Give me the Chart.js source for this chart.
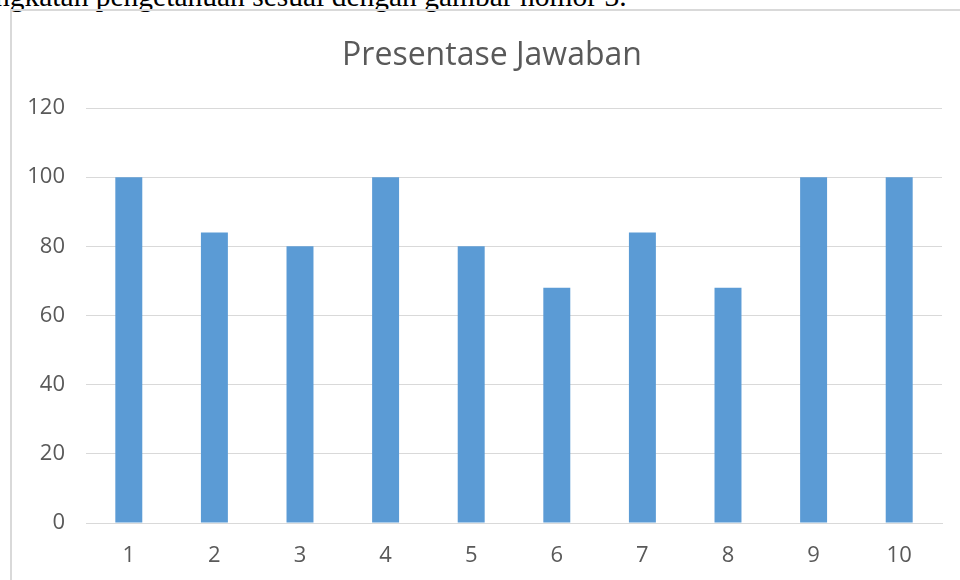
<!DOCTYPE html>
<html>
<head>
<meta charset="utf-8">
<script src="https://cdn.jsdelivr.net/npm/chart.js@4"></script>
<style>
    html, body { margin: 0; padding: 0; background: #fff; overflow: hidden; }
    body { width: 960px; height: 580px; position: relative; }
    #caption {
        position: absolute; left: -5px; top: -19px; white-space: nowrap;
        font-family: "Liberation Serif", serif; font-size: 29.5px; line-height: 30px; color: #000;
    }
    #frame {
        position: absolute; left: 10px; top: 9px; width: 960px; height: 580px;
        border-left: 2px solid #d9d9d9; border-top: 2px solid #d9d9d9;
    }
    #chart-title {
        position: absolute; left: 12px; top: 34px; width: 960px; text-align: center;
        font-family: "Open Sans", sans-serif; font-size: 32px; line-height: 38px; color: #595959;
        z-index: 2;
    }
    #chart-wrap { position: absolute; left: 0; top: 0; width: 960px; height: 580px; }
</style>
</head>
<body>
<div id="caption">ngkatan pengetahuan sesuai dengan gambar nomor 3.</div>
<div id="frame"></div>
<div id="chart-wrap"><canvas id="chart-jawaban"></canvas></div>
<div id="chart-title"></div>
<script>
const chartTitle = 'Presentase Jawaban';
const questions = ['1', '2', '3', '4', '5', '6', '7', '8', '9', '10'];
const percentages = [100, 84, 80, 100, 80, 68, 84, 68, 100, 100];
const yTicks = [0, 20, 40, 60, 80, 100, 120];

const textGray = '#595959';
const gridGray = '#d9d9d9';

// title sits centred on the chart frame, which is wider than the plot
document.getElementById('chart-title').textContent = chartTitle;

const ctx = document.getElementById('chart-jawaban');
new Chart(ctx, {
    type: 'bar',
    data: {
        labels: questions,
        datasets: [{
            label: chartTitle,
            data: percentages,
            backgroundColor: '#5b9bd5',
            borderWidth: 0,
            barPercentage: 0.315,
            categoryPercentage: 1,
        }],
    },
    options: {
        responsive: true,
        maintainAspectRatio: false,
        animation: false,
        layout: { padding: { top: 108, right: 18, bottom: 0, left: 0 } },
        plugins: {
            legend: { display: false },
            tooltip: { enabled: false },
            title: { display: false },
        },
        scales: {
            x: {
                grid: { display: false, drawTicks: false },
                border: { display: true, color: gridGray, width: 1 },
                ticks: { color: textGray, font: { family: 'Open Sans', size: 22 }, padding: 20 },
                afterFit: s => { s.height = 57; },
            },
            y: {
                min: 0,
                max: 120,
                afterBuildTicks: s => { s.ticks = yTicks.map(v => ({ value: v })); },
                grid: { color: gridGray, drawTicks: false },
                border: { display: false },
                ticks: { color: textGray, font: { family: 'Open Sans', size: 22 }, padding: 21 },
                afterFit: s => { s.width = 86; },
            },
        },
    },
});
</script>
</body>
</html>
